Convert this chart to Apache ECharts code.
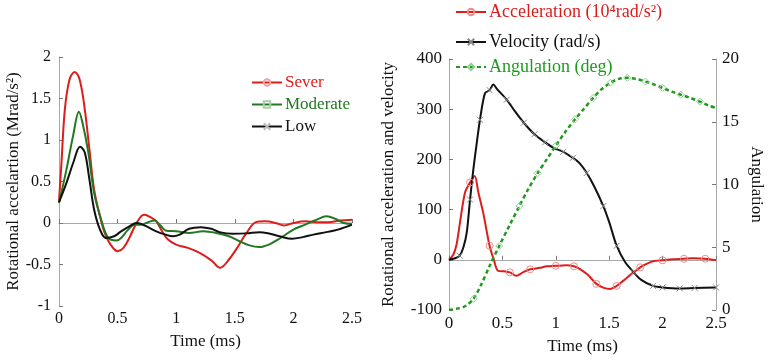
<!DOCTYPE html>
<html>
<head>
<meta charset="utf-8">
<script src="https://cdn.jsdelivr.net/npm/echarts@6/dist/echarts.min.js"></script>
<style>html,body{margin:0;padding:0;background:#fff}#c{width:768px;height:360px}</style>
</head>
<body>
<div id="c"></div>
<script>
// ---------- Left chart data (Mrad/s^2 vs ms) ----------
const severT = [0, 0.02, 0.05, 0.09, 0.134, 0.176, 0.22, 0.26, 0.3, 0.35, 0.39, 0.44, 0.5, 0.55, 0.6, 0.65, 0.7, 0.73, 0.78, 0.83, 0.88, 0.93, 1.0, 1.1, 1.2, 1.3, 1.375, 1.45, 1.52, 1.6, 1.68, 1.76, 1.85, 1.92, 2.0, 2.1, 2.2, 2.3, 2.4, 2.5];
const severV = [0.26, 0.7, 1.37, 1.73, 1.82, 1.73, 1.37, 0.88, 0.4, 0.08, -0.12, -0.26, -0.34, -0.3, -0.18, -0.03, 0.08, 0.1, 0.07, 0.02, -0.1, -0.2, -0.26, -0.3, -0.36, -0.45, -0.54, -0.44, -0.3, -0.12, 0.01, 0.02, 0.0, -0.03, 0.0, 0.02, 0.01, 0.01, 0.03, 0.04];
const modT = [0, 0.063, 0.12, 0.17, 0.2, 0.25, 0.3, 0.36, 0.42, 0.49, 0.53, 0.59, 0.645, 0.7, 0.76, 0.815, 0.86, 0.91, 1.0, 1.11, 1.23, 1.34, 1.45, 1.54, 1.625, 1.71, 1.79, 1.88, 2.0, 2.1, 2.2, 2.28, 2.36, 2.43, 2.5];
const modV = [0.24, 0.64, 1.05, 1.34, 1.21, 0.85, 0.36, 0.04, -0.18, -0.21, -0.18, -0.08, -0.02, -0.02, 0.01, 0.03, -0.02, -0.09, -0.1, -0.12, -0.1, -0.12, -0.16, -0.22, -0.27, -0.29, -0.26, -0.19, -0.08, -0.02, 0.04, 0.08, 0.05, 0.0, -0.01];
const lowT = [0, 0.063, 0.12, 0.18, 0.22, 0.26, 0.3, 0.35, 0.4, 0.47, 0.53, 0.6, 0.66, 0.7, 0.76, 0.83, 0.91, 0.97, 1.03, 1.11, 1.21, 1.3, 1.37, 1.48, 1.6, 1.71, 1.8, 1.88, 1.99, 2.08, 2.17, 2.28, 2.38, 2.5];
const lowV = [0.25, 0.48, 0.72, 0.92, 0.85, 0.52, 0.16, -0.08, -0.18, -0.16, -0.1, -0.04, 0.0, -0.01, -0.05, -0.1, -0.14, -0.16, -0.14, -0.07, -0.05, -0.07, -0.11, -0.13, -0.125, -0.11, -0.13, -0.16, -0.19, -0.17, -0.14, -0.11, -0.08, -0.02];

// ---------- Right chart data ----------
const accT = [0, 0.04, 0.07, 0.1, 0.15, 0.197, 0.24, 0.275, 0.32, 0.38, 0.42, 0.46, 0.52, 0.57, 0.63, 0.7, 0.76, 0.85, 0.915, 1.0, 1.1, 1.17, 1.23, 1.3, 1.38, 1.45, 1.51, 1.57, 1.63, 1.71, 1.79, 1.85, 1.91, 2.0, 2.1, 2.2, 2.29, 2.4, 2.5];
const accV = [0, 10, 30, 70, 134, 154, 167, 134, 94, 28, 0, -22, -23, -25, -32, -24, -19, -16, -13, -12, -11, -13, -19, -30, -48, -56, -58, -52, -42, -28, -15, -8, -3, -1, 1, 2, 3, 2, -1];
const velT = [0, 0.07, 0.1, 0.135, 0.166, 0.197, 0.228, 0.26, 0.29, 0.337, 0.38, 0.415, 0.45, 0.54, 0.62, 0.7, 0.8, 0.9, 0.98, 1.07, 1.16, 1.22, 1.29, 1.36, 1.445, 1.5, 1.57, 1.65, 1.73, 1.8, 1.91, 2.0, 2.16, 2.3, 2.5];
const velV = [0, 4, 8, 25, 54, 120, 180, 233, 279, 332, 338, 349, 340, 319, 295, 273, 250, 234, 223, 215, 203, 193, 173, 146, 107, 75, 28, -5, -25, -40, -52, -55, -57, -56, -55];
const angT = [0, 0.07, 0.15, 0.23, 0.3, 0.38, 0.47, 0.57, 0.66, 0.74, 0.83, 0.915, 1.0, 1.09, 1.18, 1.26, 1.35, 1.43, 1.51, 1.585, 1.67, 1.76, 1.84, 1.91, 2.0, 2.085, 2.17, 2.26, 2.35, 2.43, 2.5];
const angV = [0, 0.1, 0.3, 0.9, 2.0, 3.5, 5.1, 6.8, 8.3, 9.6, 10.9, 12.0, 13.1, 14.2, 15.2, 16.0, 16.9, 17.6, 18.1, 18.4, 18.5, 18.4, 18.2, 18.0, 17.7, 17.4, 17.15, 16.9, 16.6, 16.3, 16.1];

// ---------- Axis ticks ----------
const xTicks = [0, 0.5, 1, 1.5, 2, 2.5];
const leftYTicks = [-1, -0.5, 0, 0.5, 1, 1.5, 2];
const rightYTicks = [-100, 0, 100, 200, 300, 400];
const angTicks = [0, 5, 10, 15, 20];

const FONT = "'Liberation Serif', 'Times New Roman', serif";
const RED = '#dd1c1c', GREEN_L = '#217821', GREEN_R = '#1f9a1f', BLACK = '#111111', AX = '#a8a8a8';

function pairs(ts, vs) { return ts.map((t, i) => [t, vs[i]]); }
function withMarks(ts, vs, gap) {
  let last = 0;
  return ts.map((t, i) => {
    let mark = false;
    if (t - last >= gap - 1e-9) { mark = true; last = t; }
    return mark ? { value: [t, vs[i]] } : { value: [t, vs[i]], symbol: 'none' };
  });
}

const XPATH = 'path://M0,0L10,10M10,0L0,10';

function xAxisCfg(idx, gap, fs) {
  return {
    type: 'value', gridIndex: idx, min: xTicks[0], max: xTicks[xTicks.length - 1], interval: 0.5,
    name: 'Time (ms)', nameLocation: 'middle', nameGap: gap,
    nameTextStyle: { fontFamily: FONT, fontSize: 17, color: BLACK },
    axisLine: { show: true, lineStyle: { color: AX, width: 1 } },
    axisTick: { show: true, inside: true, length: 4, lineStyle: { color: '#777' } },
    axisLabel: { fontFamily: FONT, fontSize: fs, color: BLACK, margin: 5 },
    splitLine: { show: false }
  };
}

const option = {
  animation: false,
  backgroundColor: '#fff',
  textStyle: { fontFamily: FONT },
  grid: [
    { left: 59, top: 57, width: 293, height: 249 },
    { left: 449, top: 59, width: 267, height: 252 }
  ],
  xAxis: [xAxisCfg(0, 27, 16), xAxisCfg(1, 28, 17)],
  yAxis: [
    {
      type: 'value', gridIndex: 0, min: leftYTicks[0], max: leftYTicks[leftYTicks.length - 1], interval: 0.5,
      name: 'Rotational accelartion (Mrad/s²)', nameLocation: 'middle', nameGap: 36,
      nameTextStyle: { fontFamily: FONT, fontSize: 17, color: BLACK },
      axisLine: { show: true, lineStyle: { color: AX, width: 1 } },
      axisTick: { show: true, inside: true, length: 4, lineStyle: { color: '#777' } },
      axisLabel: { fontFamily: FONT, fontSize: 16, color: BLACK, margin: 8 },
      splitLine: { show: false }
    },
    {
      type: 'value', gridIndex: 1, min: rightYTicks[0], max: rightYTicks[rightYTicks.length - 1], interval: 100,
      name: 'Rotational acceleration and velocity', nameLocation: 'middle', nameGap: 52,
      nameTextStyle: { fontFamily: FONT, fontSize: 17, color: BLACK },
      axisLine: { show: true, lineStyle: { color: AX, width: 1 } },
      axisTick: { show: true, inside: true, length: 4, lineStyle: { color: '#777' } },
      axisLabel: { fontFamily: FONT, fontSize: 17, color: BLACK, margin: 7 },
      splitLine: { show: false }
    },
    {
      type: 'value', gridIndex: 1, position: 'right', min: angTicks[0], max: angTicks[angTicks.length - 1], interval: 5,
      name: 'Angulation', nameLocation: 'middle', nameGap: 32, nameRotate: -90,
      nameTextStyle: { fontFamily: FONT, fontSize: 17, color: BLACK },
      axisLine: { show: true, lineStyle: { color: AX, width: 1 } },
      axisTick: { show: true, inside: true, length: 4, lineStyle: { color: '#777' } },
      axisLabel: { fontFamily: FONT, fontSize: 17, color: BLACK, margin: 6 },
      splitLine: { show: false }
    }
  ],
  legend: [
    { data: ['Sever'], left: 251, top: 74 },
    { data: ['Moderate'], left: 251, top: 96 },
    { data: ['Low'], left: 251, top: 118 },
    { data: ['Acceleration (10⁴rad/s²)'], left: 455, top: 3 },
    { data: ['Velocity (rad/s)'], left: 455, top: 33 },
    { data: ['Angulation (deg)'], left: 455, top: 58 }
  ].map((l, i) => Object.assign({
    orient: 'horizontal', padding: 0, itemWidth: 30, itemHeight: 8,
    textStyle: {
      fontFamily: FONT, fontSize: i < 3 ? 17 : 18,
      color: [RED, GREEN_L, BLACK, RED, BLACK, GREEN_R][i], padding: [0, 0, 0, -2]
    }
  }, l)),
  series: [
    {
      name: 'Sever', type: 'line', xAxisIndex: 0, yAxisIndex: 0, data: pairs(severT, severV),
      smooth: 0.35, showSymbol: false, symbol: 'circle', symbolSize: 5,
      lineStyle: { color: RED, width: 2 }, itemStyle: { color: 'transparent', borderColor: '#f2a0a0', borderWidth: 1 }
    },
    {
      name: 'Moderate', type: 'line', xAxisIndex: 0, yAxisIndex: 0, data: pairs(modT, modV),
      smooth: 0.35, showSymbol: false, symbol: 'rect', symbolSize: 5,
      lineStyle: { color: GREEN_L, width: 2 }, itemStyle: { color: 'transparent', borderColor: '#a8cfa8', borderWidth: 1 }
    },
    {
      name: 'Low', type: 'line', xAxisIndex: 0, yAxisIndex: 0, data: pairs(lowT, lowV),
      smooth: 0.35, showSymbol: false, symbol: XPATH, symbolSize: 5,
      lineStyle: { color: BLACK, width: 2 }, itemStyle: { color: 'transparent', borderColor: '#bbb', borderWidth: 1 }
    },
    {
      name: 'Acceleration (10⁴rad/s²)', type: 'line', xAxisIndex: 1, yAxisIndex: 1,
      data: withMarks(accT, accV, 0.16), smooth: 0.3, showSymbol: true, showAllSymbol: true,
      symbol: 'circle', symbolSize: 7,
      lineStyle: { color: RED, width: 2 }, itemStyle: { color: 'transparent', borderColor: '#f08a8a', borderWidth: 1 }
    },
    {
      name: 'Velocity (rad/s)', type: 'line', xAxisIndex: 1, yAxisIndex: 1,
      data: withMarks(velT, velV, 0.085), smooth: 0.3, showSymbol: true, showAllSymbol: true,
      symbol: XPATH, symbolSize: 6,
      lineStyle: { color: BLACK, width: 2 }, itemStyle: { color: 'transparent', borderColor: '#888', borderWidth: 1 }
    },
    {
      name: 'Angulation (deg)', type: 'line', xAxisIndex: 1, yAxisIndex: 2,
      data: withMarks(angT, angV, 0.16), smooth: 0.3, showSymbol: true, showAllSymbol: true,
      symbol: 'diamond', symbolSize: 7,
      lineStyle: { color: GREEN_R, width: 2.5, type: [4, 3] }, itemStyle: { color: 'transparent', borderColor: '#8fcf8f', borderWidth: 1 }
    }
  ]
};

const chart = echarts.init(document.getElementById('c'), null, { renderer: 'canvas' });
chart.setOption(option);
</script>
</body>
</html>
